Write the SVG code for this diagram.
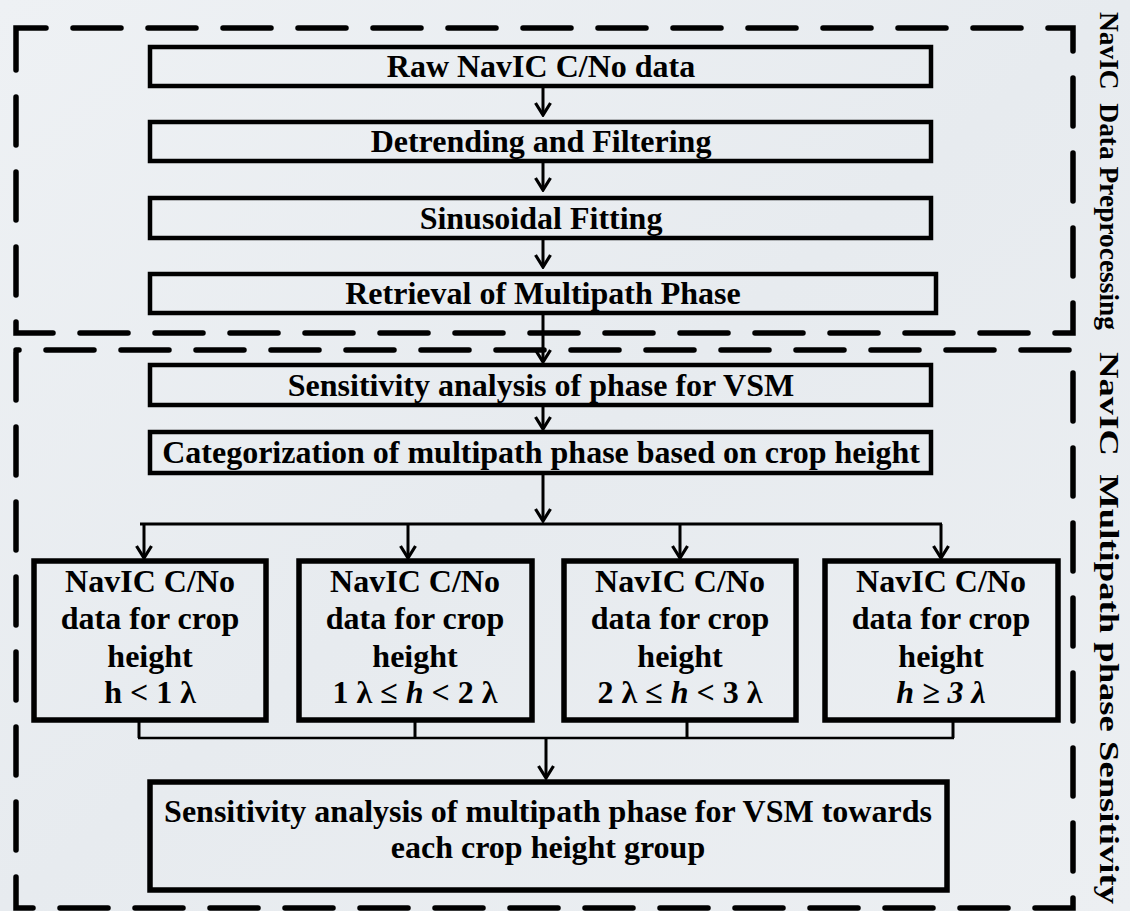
<svg xmlns="http://www.w3.org/2000/svg" width="1130" height="911" viewBox="0 0 1130 911">
<defs>
<linearGradient id="bg" x1="0" y1="0" x2="1" y2="1">
<stop offset="0" stop-color="#eef1f4"/>
<stop offset="0.5" stop-color="#e7ebef"/>
<stop offset="1" stop-color="#eceff2"/>
</linearGradient>
<marker id="ah" markerUnits="userSpaceOnUse" viewBox="0 0 16 18" refX="14" refY="9" markerWidth="16" markerHeight="18" orient="auto">
<path d="M2,1.5 L14,9 L2,16.5" fill="none" stroke="#000" stroke-width="3.2" stroke-linejoin="miter"/>
</marker>
<style>
.t{font-weight:bold;font-size:32px;fill:#000;text-anchor:middle}
.side{font-weight:bold;font-size:27px;fill:#000;text-anchor:middle;white-space:pre}
.box{fill:none;stroke:#000;stroke-width:4.5}
.sbox{fill:none;stroke:#000;stroke-width:5.5}
.dash{fill:none;stroke:#000;stroke-width:5.5;stroke-dasharray:48 27;stroke-linecap:round}
.c{fill:none;stroke:#000;stroke-width:3}
.c2{fill:none;stroke:#000;stroke-width:2.5}
.i{font-style:italic}
</style>
</defs>
<rect x="0" y="0" width="1130" height="911" fill="url(#bg)"/>
<g font-family="'Liberation Serif', 'DejaVu Serif', serif">
<g id="group-preprocessing">
<rect class="dash" x="16" y="28" width="1057" height="305" stroke-dashoffset="18"/>
<text class="side" transform="translate(1100,171) rotate(90)" textLength="318" lengthAdjust="spacingAndGlyphs">NavIC  Data Preprocessing</text>
</g>
<g id="group-sensitivity">
<rect class="dash" x="16" y="350" width="1057" height="558" stroke-dashoffset="-30"/>
<text class="side" transform="translate(1100,628) rotate(90)" textLength="552" lengthAdjust="spacingAndGlyphs">NavIC  Multipath phase Sensitivity</text>
</g>

<g id="connectors">
<line class="c" x1="543" y1="86" x2="543" y2="115" marker-end="url(#ah)"/>
<line class="c" x1="543" y1="161" x2="543" y2="190" marker-end="url(#ah)"/>
<line class="c" x1="543" y1="238" x2="543" y2="267" marker-end="url(#ah)"/>
<line class="c" x1="543" y1="313" x2="543" y2="362" marker-end="url(#ah)"/>
<line class="c" x1="543" y1="405" x2="543" y2="429" marker-end="url(#ah)"/>
<line class="c" x1="543" y1="473" x2="543" y2="521" marker-end="url(#ah)"/>
<line class="c" x1="140" y1="524" x2="942" y2="524"/>
<line class="c" x1="144" y1="524" x2="144" y2="558" marker-end="url(#ah)"/>
<line class="c" x1="408" y1="524" x2="408" y2="558" marker-end="url(#ah)"/>
<line class="c" x1="680" y1="524" x2="680" y2="558" marker-end="url(#ah)"/>
<line class="c" x1="941" y1="524" x2="941" y2="558" marker-end="url(#ah)"/>
<line class="c" x1="139" y1="720" x2="139" y2="738"/>
<line class="c" x1="415" y1="720" x2="415" y2="738"/>
<line class="c" x1="687" y1="720" x2="687" y2="738"/>
<line class="c" x1="953" y1="720" x2="953" y2="738"/>
<line class="c2" x1="138" y1="738" x2="954" y2="738"/>
<line class="c" x1="546" y1="738" x2="546" y2="778" marker-end="url(#ah)"/>
</g>

<g id="raw-data">
<rect class="box" x="150" y="47" width="781" height="39"/>
<text class="t" x="541" y="77">Raw NavIC C/No data</text>
</g>
<g id="detrending">
<rect class="box" x="150" y="122" width="781" height="39"/>
<text class="t" x="541" y="152">Detrending and Filtering</text>
</g>
<g id="sinusoidal">
<rect class="box" x="150" y="198" width="781" height="40"/>
<text class="t" x="541" y="229">Sinusoidal Fitting</text>
</g>
<g id="retrieval">
<rect class="box" x="150" y="274" width="786" height="39"/>
<text class="t" x="543" y="304">Retrieval of Multipath Phase</text>
</g>
<g id="sensitivity-phase">
<rect class="box" x="150" y="365" width="781" height="40"/>
<text class="t" x="541" y="396">Sensitivity analysis of phase for VSM</text>
</g>
<g id="categorization">
<rect class="box" x="150" y="432" width="781" height="41"/>
<text class="t" x="541" y="463">Categorization of multipath phase based on crop height</text>
</g>
<g id="crop-1">
<rect class="sbox" x="34" y="561" width="232" height="159"/>
<text class="t" x="150" y="592">NavIC C/No</text>
<text class="t" x="150" y="629">data for crop</text>
<text class="t" x="150" y="667">height</text>
<text class="t" x="150" y="703">h &lt; 1 λ</text>
</g>
<g id="crop-2">
<rect class="sbox" x="299" y="561" width="233" height="159"/>
<text class="t" x="415" y="592">NavIC C/No</text>
<text class="t" x="415" y="629">data for crop</text>
<text class="t" x="415" y="667">height</text>
<text class="t" x="415" y="703">1 λ ≤ <tspan class="i">h</tspan> &lt; 2 λ</text>
</g>
<g id="crop-3">
<rect class="sbox" x="564" y="561" width="232" height="159"/>
<text class="t" x="680" y="592">NavIC C/No</text>
<text class="t" x="680" y="629">data for crop</text>
<text class="t" x="680" y="667">height</text>
<text class="t" x="680" y="703">2 λ ≤ <tspan class="i">h</tspan> &lt; 3 λ</text>
</g>
<g id="crop-4">
<rect class="sbox" x="825" y="561" width="233" height="159"/>
<text class="t" x="941" y="592">NavIC C/No</text>
<text class="t" x="941" y="629">data for crop</text>
<text class="t" x="941" y="667">height</text>
<text class="t i" x="941" y="703">h ≥ 3 λ</text>
</g>
<g id="final-analysis">
<rect class="sbox" x="150" y="782" width="797" height="108"/>
<text class="t" x="548" y="822">Sensitivity analysis of multipath phase for VSM towards</text>
<text class="t" x="548" y="858">each crop height group</text>
</g>
</g>
</svg>
